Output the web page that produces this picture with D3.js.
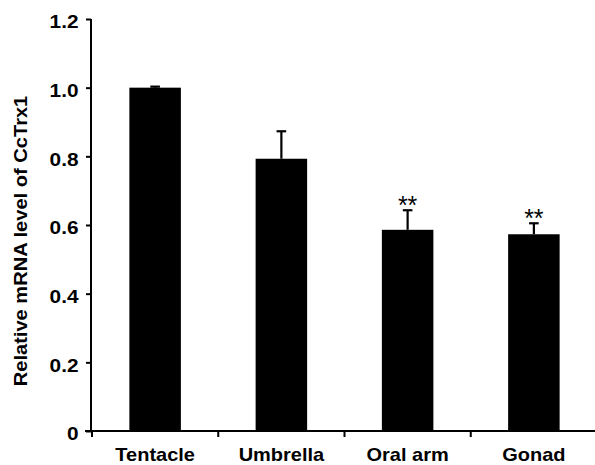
<!DOCTYPE html>
<html><head><meta charset="utf-8">
<script src="https://cdn.jsdelivr.net/npm/d3@7"></script>
<style>body{margin:0;background:#fff}svg{display:block}text{font-family:"Liberation Sans",Arial,sans-serif}</style>
</head><body>
<svg id="c" width="595" height="465"></svg>
<script>
const categories = ["Tentacle", "Umbrella", "Oral arm", "Gonad"];
const values = [1.0, 0.793, 0.586, 0.573];
const errors = [0.003, 0.08, 0.057, 0.032];
const significance = ["", "", "**", "**"];
const yTicks = [0, 0.2, 0.4, 0.6, 0.8, 1.0, 1.2];
const yTickLabels = ["0", "0.2", "0.4", "0.6", "0.8", "1.0", "1.2"];
const yTitle = "Relative mRNA level of CcTrx1";

const FONT = '"Liberation Sans",Arial,sans-serif';
const svg = d3.select("#c");
const x = d3.scaleBand().domain(categories).range([92, 597]).paddingInner(0.592).paddingOuter(0.296);
const y = d3.scaleLinear().domain([0, 1.2]).range([431, 19]);
const x0 = 91;

function stretch(sel, f) {
  sel.each(function () {
    const L = this.getComputedTextLength();
    d3.select(this).attr("textLength", L * f).attr("lengthAdjust", "spacingAndGlyphs");
  });
}

// bars
svg.selectAll("rect.bar").data(categories).join("rect")
  .attr("x", d => x(d)).attr("width", x.bandwidth())
  .attr("y", (d, i) => y(values[i])).attr("height", (d, i) => y(0) - y(values[i]))
  .attr("fill", "#000");

// error bars
const eg = svg.append("g").attr("stroke", "#000").attr("stroke-width", 2.2);
categories.forEach((c, i) => {
  const cx = x(c) + x.bandwidth() / 2;
  eg.append("line").attr("x1", cx).attr("x2", cx).attr("y1", y(values[i])).attr("y2", y(values[i] + errors[i]));
  eg.append("line").attr("x1", cx - 4.8).attr("x2", cx + 4.8).attr("y1", y(values[i] + errors[i])).attr("y2", y(values[i] + errors[i]));
});

// significance
svg.selectAll("text.sig").data(categories).join("text")
  .attr("x", d => x(d) + x.bandwidth() / 2)
  .attr("y", (d, i) => y(values[i] + errors[i]) + 4)
  .attr("text-anchor", "middle").attr("font-size", 25)
  .text((d, i) => significance[i]);

// y axis
const yAxis = d3.axisLeft(y).tickValues(yTicks).tickFormat((d, i) => yTickLabels[i]).tickSize(5);
const ya = svg.append("g").attr("transform", `translate(${x0},0)`).call(yAxis);
ya.select(".domain").attr("d", `M0,${y(1.2)}V${y(0)}`).attr("stroke-width", 2);
ya.selectAll(".tick line").attr("stroke-width", 2);
const yt = ya.selectAll(".tick text").attr("font-size", 17.8).attr("font-weight", "bold").attr("fill", "#000")
  .attr("font-family", FONT).attr("x", -12.5).attr("dy", 8.8);
stretch(yt, 1.17);

// x axis
const xAxis = d3.axisBottom(x).tickSize(0);
const xa = svg.append("g").attr("transform", `translate(0,${y(0)})`).call(xAxis);
xa.select(".domain").attr("d", `M85,0H597`).attr("stroke-width", 2);
const xt = xa.selectAll(".tick text").attr("font-size", 18.5).attr("font-weight", "bold").attr("fill", "#000")
  .attr("font-family", FONT).attr("y", 461 - y(0)).attr("dy", 0);
stretch(xt, 1.08);
// separator ticks between categories
const bounds = categories.map(c => x(c) - x.step() * x.paddingInner() / 2);
xa.selectAll("line.sep").data(bounds).join("line").attr("class", "sep")
  .attr("x1", d => d).attr("x2", d => d).attr("y1", 0).attr("y2", 6)
  .attr("stroke", "#000").attr("stroke-width", 2);

// y title
const tt = svg.append("text")
  .attr("transform", `translate(26.5,241) rotate(-90)`)
  .attr("text-anchor", "middle").attr("font-size", 18.6).attr("font-weight", "bold")
  .text(yTitle);
stretch(tt, 1.08);
</script>
</body></html>
